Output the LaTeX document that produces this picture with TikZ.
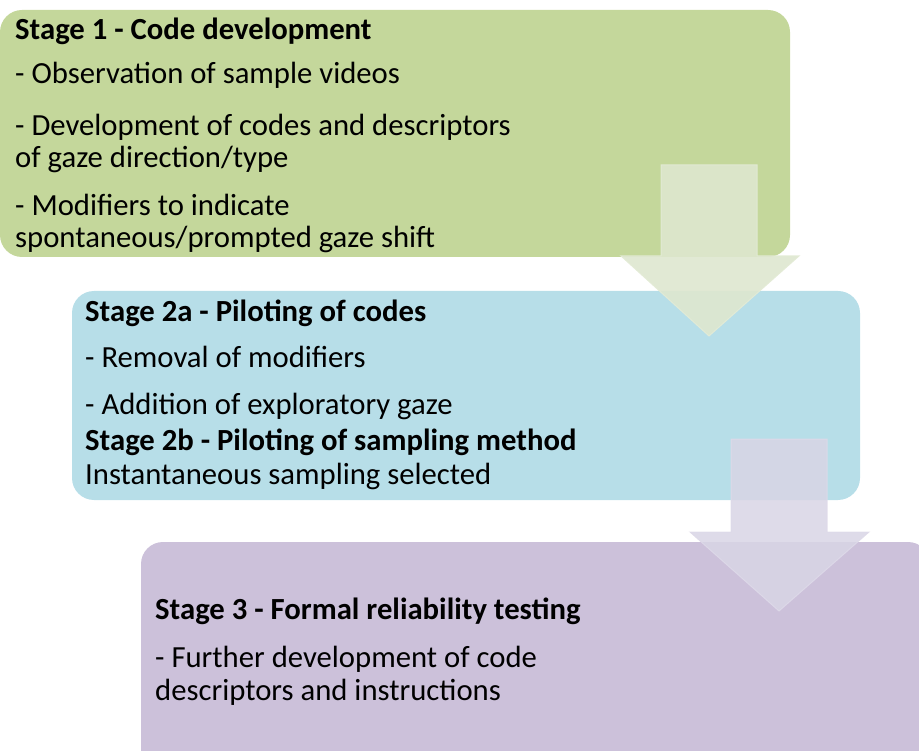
\documentclass[tikz,border=0pt]{standalone}
\usepackage{fontspec}
\setmainfont{Carlito}
\begin{document}
\begin{tikzpicture}[x=1pt,y=-1pt,
  stagebox/.style={rounded corners=22pt},
  blockarrow/.style={line width=1pt, line join=miter},
  txt/.style={anchor=base west, inner sep=0pt, font=\fontsize{30.7}{36}\selectfont},
  head/.style={txt, font=\fontsize{30.7}{36}\selectfont\bfseries}]
\definecolor{greenbox}{HTML}{C4D79B}
\definecolor{bluebox}{HTML}{B7DEE8}
\definecolor{purplebox}{HTML}{CCC1DA}
\definecolor{greenarrow}{HTML}{DEE7CF}
\definecolor{greenedge}{HTML}{E3EBD6}
\definecolor{purplearrow}{HTML}{D8D5E5}
\definecolor{purpleedge}{HTML}{DEDAE9}
\useasboundingbox (0,0) rectangle (919,751);
\clip (0,0) rectangle (919,751);

% stage panels
\fill[greenbox, stagebox] (0,10) rectangle (790,257);
\fill[bluebox, stagebox] (72,291) rectangle (860,500);

% arrow from stage 1 to stage 2
\filldraw[blockarrow, fill=greenarrow, draw=greenedge, opacity=0.9]
  (661,165) -- (757,165) -- (757,256) -- (799,256) -- (709,336)
  -- (621,256) -- (661,256) -- cycle;

\fill[purplebox, stagebox] (141,542) rectangle (930,790);

% arrow from stage 2 to stage 3
\filldraw[blockarrow, fill=purplearrow, draw=purpleedge, opacity=0.85]
  (731,439) -- (827,439) -- (827,532) -- (869,532) -- (779,611)
  -- (690,532) -- (731,532) -- cycle;

% stage 1 text
\node[head] (s1title) at (15,40) {Stage 1 - Code development};
\node[txt] (s1a) at (15,84) {- Observation of sample videos};
\node[txt] (s1b) at (15,136) {- Development of codes and descriptors};
\node[txt] (s1c) at (15,168) {of gaze direction/type};
\node[txt] (s1d) at (15,216) {- Modifiers to indicate};
\node[txt] (s1e) at (15,248) {spontaneous/prompted gaze shift};

% stage 2 text
\node[head] (s2title) at (85,322) {Stage 2a - Piloting of codes};
\node[txt] (s2a) at (85,368) {- Removal of modifiers};
\node[txt] (s2b) at (85,414) {- Addition of exploratory gaze};
\node[head] (s2btitle) at (85,450) {Stage 2b - Piloting of sampling method};
\node[txt] (s2c) at (85,484) {Instantaneous sampling selected};

% stage 3 text
\node[head] (s3title) at (155,619) {Stage 3 - Formal reliability testing};
\node[txt] (s3a) at (155,667) {- Further development of code};
\node[txt] (s3b) at (155,700) {descriptors and instructions};
\end{tikzpicture}
\end{document}
